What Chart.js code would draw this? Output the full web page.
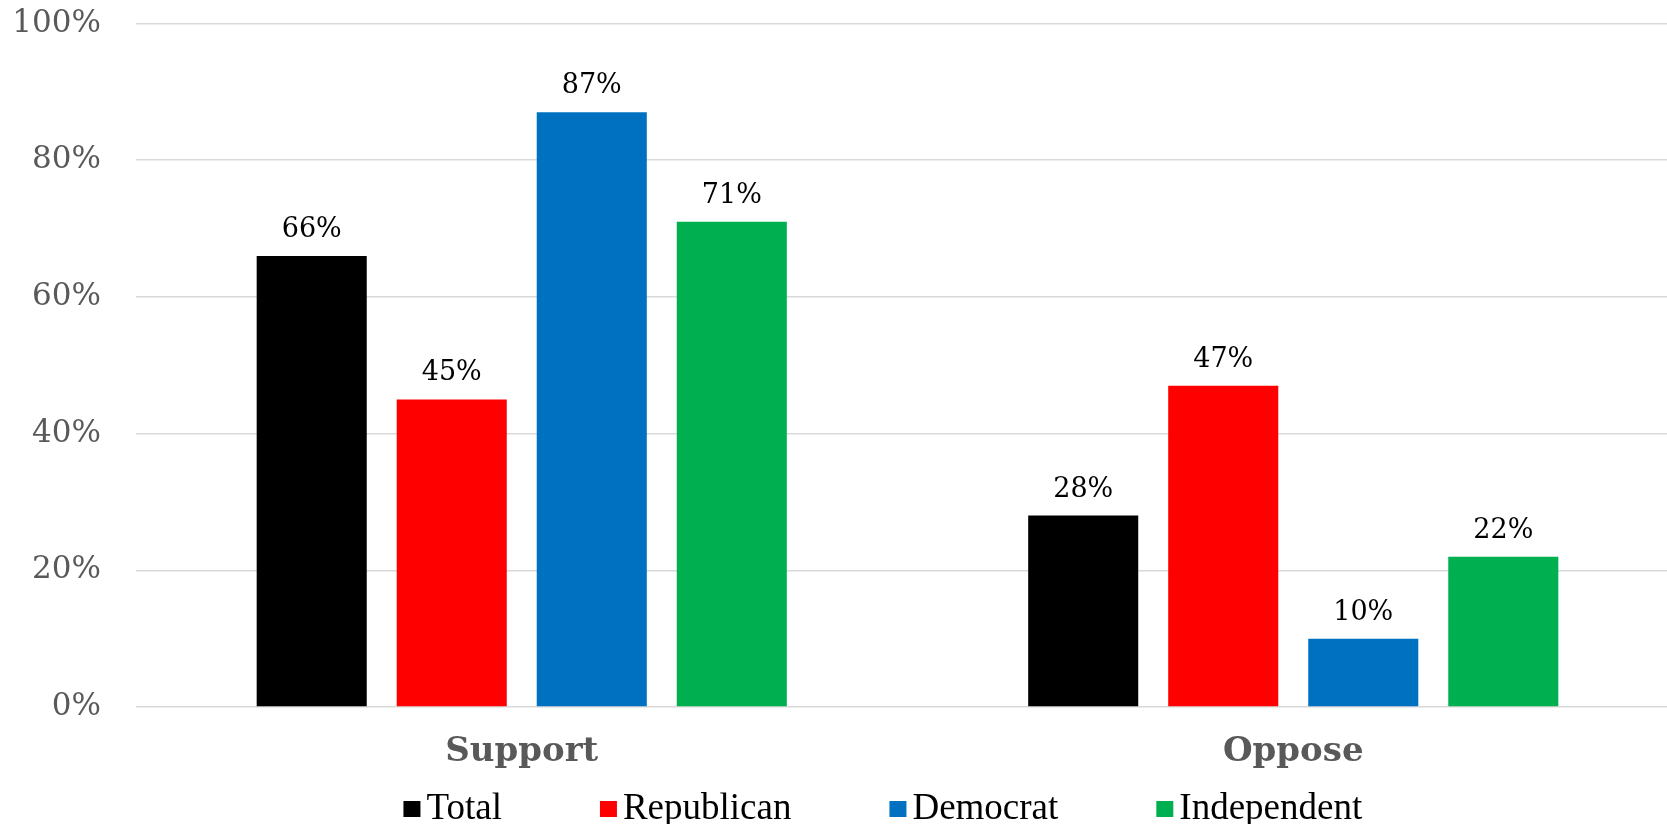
<!DOCTYPE html>
<html>
<head>
<meta charset="utf-8">
<script src="https://cdn.jsdelivr.net/npm/chart.js@4/dist/chart.umd.min.js"></script>
<style>
  html, body { margin: 0; padding: 0; background: #fff; overflow: hidden; }
  #wrap { width: 1680px; height: 824px; }
</style>
</head>
<body>
<div id="wrap"><canvas id="chart" width="1680" height="824"></canvas></div>
<script>
// ---- data ----
const categories = ['Support', 'Oppose'];
const seriesNames = ['Total', 'Republican', 'Democrat', 'Independent'];
const totalValues = [66, 28];
const republicanValues = [45, 47];
const democratValues = [87, 10];
const independentValues = [71, 22];
const seriesColors = ['#000000', '#FF0000', '#0070C0', '#00B050'];
const yTicks = [0, 20, 40, 60, 80, 100];

const serif = 'Georgia, "DejaVu Serif", serif';
const grey = '#595959';

// value labels above each bar
const barLabels = {
    id: 'barLabels',
    afterDatasetsDraw(chart) {
        const ctx = chart.ctx;
        ctx.save();
        ctx.font = '27px ' + serif;
        ctx.fillStyle = '#000';
        ctx.textAlign = 'center';
        ctx.textBaseline = 'alphabetic';
        chart.data.datasets.forEach((ds, i) => {
            chart.getDatasetMeta(i).data.forEach((bar, j) => {
                ctx.fillText(ds.data[j] + '%', bar.x, bar.y - 19);
            });
        });
        ctx.restore();
    }
};

// legend under the axis labels, small box/text gap like the original
const bottomLegend = {
    id: 'bottomLegend',
    afterDraw(chart) {
        const ctx = chart.ctx;
        const box = 17, gap = 6, spacing = 98;
        ctx.save();
        ctx.font = '37px "Liberation Serif", serif';
        ctx.textBaseline = 'alphabetic';
        const items = chart.data.datasets.map(ds => ({
            text: ds.label,
            color: ds.backgroundColor,
            w: ctx.measureText(ds.label).width
        }));
        const total = items.reduce((s, it) => s + box + gap + it.w, 0) + spacing * (items.length - 1);
        const area = chart.chartArea;
        let x = area.left + area.width * 0.484 - total / 2;
        const baseline = 819;
        items.forEach(it => {
            ctx.fillStyle = it.color;
            ctx.fillRect(x, baseline - 18, box, 16);
            ctx.fillStyle = '#000';
            ctx.fillText(it.text, x + box + gap, baseline);
            x += box + gap + it.w + spacing;
        });
        ctx.restore();
    }
};

const seriesData = [totalValues, republicanValues, democratValues, independentValues];

new Chart(document.getElementById('chart'), {
    type: 'bar',
    data: {
        labels: categories,
        datasets: seriesNames.map((name, i) => ({
            label: name,
            data: seriesData[i],
            backgroundColor: seriesColors[i],
            borderWidth: 0,
            categoryPercentage: 0.726,
            barPercentage: 0.786
        }))
    },
    options: {
        responsive: false,
        animation: false,
        layout: {
            autoPadding: false,
            padding: { top: 23.5, left: 12, right: 1, bottom: 51 }
        },
        plugins: {
            legend: { display: false },
            tooltip: { enabled: false }
        },
        scales: {
            x: {
                grid: { display: false, drawTicks: false },
                border: { display: false },
                ticks: {
                    padding: 25,
                    color: grey,
                    font: { family: serif, size: 34, weight: 'bold' }
                },
                afterFit(scale) {
                    scale.height = 66;
                    scale.paddingLeft = 0;
                    scale.paddingRight = 0;
                }
            },
            y: {
                min: 0,
                max: 100,
                afterBuildTicks(scale) {
                    scale.ticks = yTicks.map(v => ({ value: v }));
                },
                grid: { color: '#D9D9D9', lineWidth: 1.5, drawTicks: false },
                border: { display: false },
                ticks: {
                    padding: 35,
                    color: grey,
                    font: { family: serif, size: 31 },
                    callback: v => v + '%'
                },
                afterFit(scale) {
                    scale.width = 124;
                    scale.paddingTop = 0;
                    scale.paddingBottom = 0;
                }
            }
        }
    },
    plugins: [barLabels, bottomLegend]
});
</script>
</body>
</html>
